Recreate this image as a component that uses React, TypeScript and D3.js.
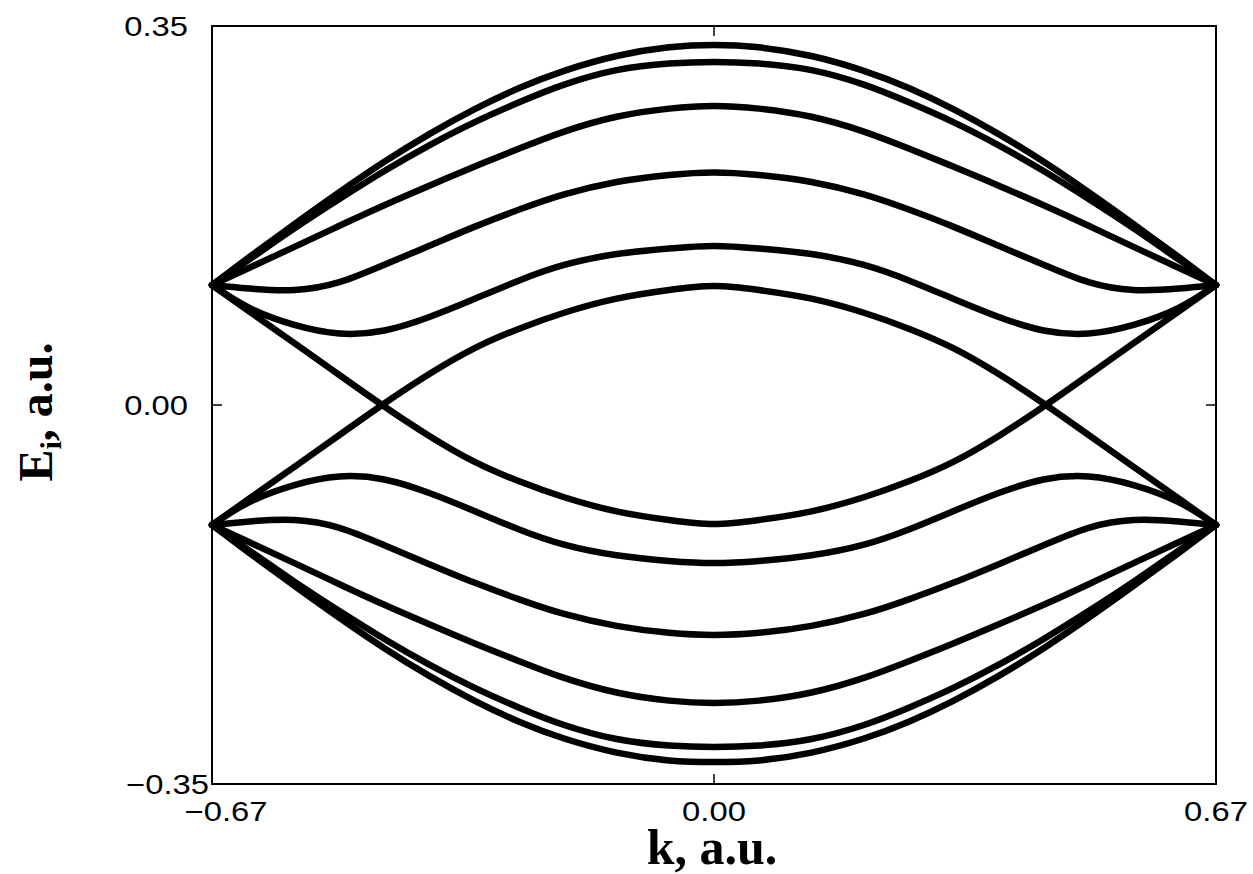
import React from "react";
import * as d3 from "d3";

// Wave-vector samples for k <= 0; bands are even in k, so the k > 0 half is the reflection.
const kHalf = [-0.67, -0.62, -0.56, -0.5, -0.44, -0.38, -0.32, -0.26, -0.2, -0.13, -0.06, 0];

// Upper six bands E_i(k), a.u.
const band1 = [0.1108, 0.1367, 0.1670, 0.1965, 0.2246, 0.2502, 0.2730, 0.2927, 0.3086, 0.3223, 0.3303, 0.3325];
const band2 = [0.1108, 0.1345, 0.1632, 0.1903, 0.2161, 0.2398, 0.2610, 0.2795, 0.2958, 0.3092, 0.3153, 0.3168];
const band3 = [0.1108, 0.1268, 0.1460, 0.1655, 0.1845, 0.2025, 0.2200, 0.2368, 0.2525, 0.2662, 0.2737, 0.2761];
const band4 = [0.1108, 0.1075, 0.1062, 0.1134, 0.1295, 0.1470, 0.1645, 0.1805, 0.1945, 0.2060, 0.2125, 0.2148];
const band5 = [0.1108, 0.0896, 0.0739, 0.0660, 0.0688, 0.0813, 0.0979, 0.1150, 0.1293, 0.1394, 0.1445, 0.1468];
const band6 = [0.1108, 0.0863, 0.0571, 0.0277, -0.0014, -0.0286, -0.0523, -0.0705, -0.0852, -0.0982, -0.1062, -0.1099];

// Lower six bands E_i(k), a.u.
const band7 = [-0.1108, -0.0863, -0.0571, -0.0277, 0.0014, 0.0286, 0.0523, 0.0705, 0.0852, 0.0982, 0.1062, 0.1099];
const band8 = [-0.1108, -0.0896, -0.0739, -0.0660, -0.0688, -0.0813, -0.0979, -0.1150, -0.1290, -0.1388, -0.1440, -0.1459];
const band9 = [-0.1108, -0.1075, -0.1062, -0.1134, -0.1295, -0.1470, -0.1640, -0.1795, -0.1930, -0.2040, -0.2104, -0.2124];
const band10 = [-0.1108, -0.1268, -0.1460, -0.1655, -0.1845, -0.2025, -0.2200, -0.2366, -0.2520, -0.2655, -0.2730, -0.2752];
const band11 = [-0.1108, -0.1345, -0.1632, -0.1903, -0.2161, -0.2398, -0.2610, -0.2795, -0.2955, -0.3085, -0.3145, -0.3158];
const band12 = [-0.1108, -0.1367, -0.1670, -0.1965, -0.2246, -0.2502, -0.2730, -0.2925, -0.3080, -0.3210, -0.3282, -0.3297];

const bands = [band1, band2, band3, band4, band5, band6, band7, band8, band9, band10, band11, band12];

const xTicks = [-0.67, 0, 0.67];
const yTicks = [-0.35, 0, 0.35];
const xTickLabels = ["\u22120.67", "0.00", "0.67"];
const yTickLabels = ["\u22120.35", "0.00", "0.35"];

const W = 1253;
const H = 874;
const L = 212;
const R = 1216;
const T = 26;
const B = 784;

export default function App() {
  const x = d3.scaleLinear().domain([-0.67, 0.67]).range([L, R]);
  const y = d3.scaleLinear().domain([-0.35, 0.35]).range([B, T]);

  const line = d3
    .line<[number, number]>()
    .x((d) => x(d[0]))
    .y((d) => y(d[1]))
    .curve(d3.curveNatural);

  const fullBand = (e: number[]): [number, number][] => {
    const left = kHalf.map((k, i) => [k, e[i]] as [number, number]);
    const right = kHalf
      .slice(0, -1)
      .map((k, i) => [-k, e[i]] as [number, number])
      .reverse();
    return left.concat(right);
  };

  const tickFont = "'Liberation Sans', Arial, Helvetica, sans-serif";
  const titleFont = "'Liberation Serif', 'Times New Roman', serif";
  const tickLen = 10;

  return (
    <svg
      width={W}
      height={H}
      style={{ position: "absolute", left: 0, top: 0, background: "#fff" }}
    >
      <rect x={0} y={0} width={W} height={H} fill="#fff" />
      {bands.map((b, i) => (
        <path
          key={i}
          d={line(fullBand(b)) || ""}
          fill="none"
          stroke="#000"
          strokeWidth={6.5}
          strokeLinecap="round"
          strokeLinejoin="round"
        />
      ))}
      <rect x={L} y={T} width={R - L} height={B - T} fill="none" stroke="#000" strokeWidth={2} />
      {xTicks.map((t, i) => (
        <g key={"xt" + i}>
          <line x1={x(t)} x2={x(t)} y1={B} y2={B - tickLen} stroke="#000" strokeWidth={1.5} />
          <line x1={x(t)} x2={x(t)} y1={T} y2={T + tickLen} stroke="#000" strokeWidth={1.5} />
          <text
            transform={`translate(${x(t) + (i === 0 ? 14 : 0)},821) scale(1.17,1)`}
            textAnchor="middle"
            fontFamily={tickFont}
            fontSize={28}
            fill="#000"
          >
            {xTickLabels[i]}
          </text>
        </g>
      ))}
      {yTicks.map((t, i) => (
        <g key={"yt" + i}>
          <line x1={L} x2={L + tickLen} y1={y(t)} y2={y(t)} stroke="#000" strokeWidth={1.5} />
          <line x1={R} x2={R - tickLen} y1={y(t)} y2={y(t)} stroke="#000" strokeWidth={1.5} />
          <text
            transform={`translate(${i === 0 ? 209 : 188},${y(t) + 10}) scale(1.17,1)`}
            textAnchor="end"
            fontFamily={tickFont}
            fontSize={28}
            fill="#000"
          >
            {yTickLabels[i]}
          </text>
        </g>
      ))}
      <text
        x={712}
        y={864}
        textAnchor="middle"
        fontFamily={titleFont}
        fontWeight="bold"
        fontSize={50}
        fill="#000"
      >
        k, a.u.
      </text>
      <text
        transform="translate(52,412) rotate(-90)"
        textAnchor="middle"
        fontFamily={titleFont}
        fontWeight="bold"
        fontSize={48}
        fill="#000"
      >
        E
        <tspan fontSize={30} dy={9}>
          i
        </tspan>
        <tspan dy={-9}>, a.u.</tspan>
      </text>
    </svg>
  );
}
